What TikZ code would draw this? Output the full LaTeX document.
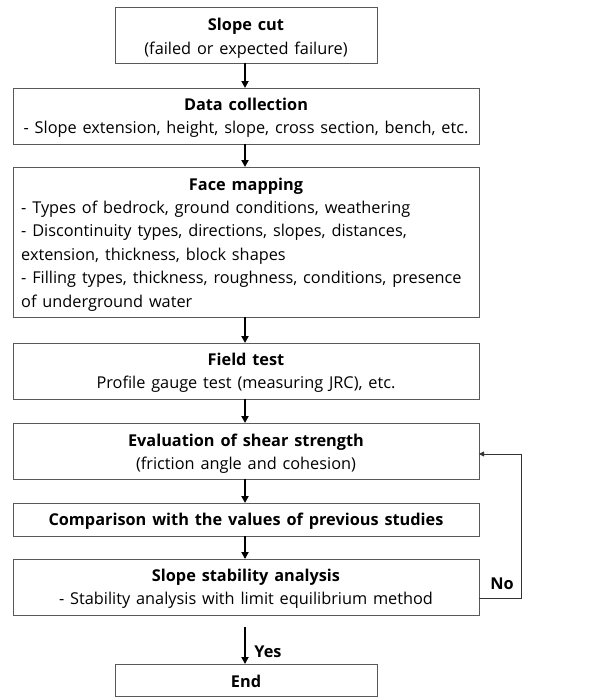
\documentclass[tikz,border=0pt]{standalone}
\usepackage{fontspec}
\setmainfont{Open Sans}
\usetikzlibrary{arrows.meta}
\newcommand\mywsp{\spaceskip=0.36em plus 0.1em minus 0.05em\relax}
\newcommand\mytxtfont{\fontsize{16.3}{19}\selectfont\mywsp}
\begin{document}
\begin{tikzpicture}[x=1pt,y=-1pt,
  box/.style={draw=black!65, line width=0.9pt, rectangle, outer sep=0pt, inner sep=0pt},
  txt/.style={inner sep=0pt, font=\mytxtfont, anchor=base},
  ltxt/.style={txt, anchor=base west},
  ttl/.style={txt, font=\mytxtfont\bfseries},
  flow/.style={-{Triangle[length=7pt,width=7pt]}, line width=1.8pt},
  fb/.style={-{Triangle[length=5pt,width=5pt]}, line width=0.8pt, draw=black!80},
  ]
\useasboundingbox (0,0) rectangle (601,697);
% boxes
\node[box, minimum width=262pt, minimum height=56pt] (b1) at (246,35) {};
\node[box, minimum width=466pt, minimum height=56pt] (b2) at (246,116) {};
\node[box, minimum width=466pt, minimum height=150pt] (b3) at (246,242) {};
\node[box, minimum width=466pt, minimum height=56pt] (b4) at (246,371) {};
\node[box, minimum width=466pt, minimum height=56pt] (b5) at (246,451) {};
\node[box, minimum width=466pt, minimum height=33pt] (b6) at (246,519.5) {};
\node[box, minimum width=466pt, minimum height=56pt] (b7) at (246,587) {};
\node[box, minimum width=262pt, minimum height=32pt] (b8) at (246,680) {};
% texts
\node[ttl] (t1a) at (246,30) {Slope cut};
\node[txt] (t1b) at (246,54) {(failed or expected failure)};
\node[ttl] (t2a) at (246,110) {Data collection};
\node[txt] (t2b) at (246,133) {- Slope extension, height, slope, cross section, bench, etc.};
\node[ttl] (t3a) at (246,190) {Face mapping};
\node[ltxt] (t3b) at (21,213) {- Types of bedrock, ground conditions, weathering};
\node[ltxt] (t3c) at (21,236.5) {- Discontinuity types, directions, slopes, distances,};
\node[ltxt] (t3d) at (21,260) {extension, thickness, block shapes};
\node[ltxt] (t3e) at (21,283.5) {- Filling types, thickness, roughness, conditions, presence};
\node[ltxt] (t3f) at (21,307) {of underground water};
\node[ttl] (t4a) at (246,365) {Field test};
\node[txt] (t4b) at (246,388) {Profile gauge test (measuring JRC), etc.};
\node[ttl] (t5a) at (246,446) {Evaluation of shear strength};
\node[txt] (t5b) at (246,469) {(friction angle and cohesion)};
\node[ttl] (t6a) at (246,525) {Comparison with the values of previous studies};
\node[ttl] (t7a) at (246,581) {Slope stability analysis};
\node[txt] (t7b) at (246,604) {- Stability analysis with limit equilibrium method};
\node[ttl] (t8a) at (246,687) {End};
\node[ttl] (no) at (502,589) {No};
\node[ttl] (yes) at (268,657) {Yes};
% flow arrows
\draw[flow] (b1.south -| 245,0) -- (b2.north -| 245,0);
\draw[flow] (b2.south -| 245,0) -- (b3.north -| 245,0);
\draw[flow] (b3.south -| 245,0) -- (b4.north -| 245,0);
\draw[flow] (b4.south -| 245,0) -- (b5.north -| 245,0);
\draw[flow] (b5.south -| 245,0) -- (b6.north -| 245,0);
\draw[flow] (b6.south -| 245,0) -- (b7.north -| 245,0);
\coordinate (ys) at (245,627);
\draw[flow] (ys) -- (b8.north -| 245,0);
% feedback
\coordinate (fr) at (521,598);
\draw[fb] (b7.east |- fr) -- (fr) -- (521,454) -- (b5.east |- 0,454);
\end{tikzpicture}
\end{document}
